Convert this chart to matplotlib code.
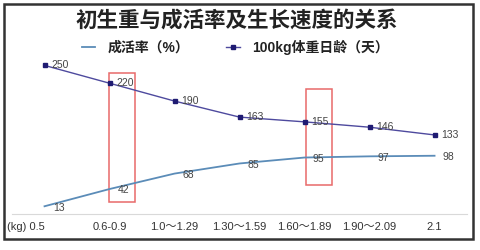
import matplotlib
matplotlib.use('Agg')
import matplotlib.pyplot as plt
from matplotlib.patches import Rectangle

plt.rcParams['font.family'] = ['Liberation Sans', 'Noto Sans CJK SC']

# data
categories = ['(kg) 0.5', '0.6-0.9', '1.0～1.29', '1.30～1.59', '1.60～1.89', '1.90～2.09', '2.1']
survival = [13, 42, 68, 85, 95, 97, 98]
age_100kg = [250, 220, 190, 163, 155, 146, 133]
highlight = [1, 4]

fig = plt.figure(figsize=(4.81, 2.5), dpi=100)
ax = fig.add_axes([0.025, 0.144, 0.946, 0.642])

x = list(range(len(categories)))
ax.plot(x, survival, color='#5b8cb8', lw=1.3, label='成活率（%）')
ax.plot(x, age_100kg, color='#4e4a9e', lw=1.0, marker='s', markersize=3,
        markerfacecolor='#1f1b72', markeredgecolor='#1f1b72', label='100kg体重日龄（天）')

# data labels
for xi, v in zip(x, survival):
    ax.annotate(str(v), (xi, v), xytext=(6, -1), textcoords='offset points',
                ha='left', va='center', fontsize=7.5, color='#444444')
for xi, v in zip(x, age_100kg):
    ax.annotate(str(v), (xi, v), xytext=(5, 0), textcoords='offset points',
                ha='left', va='center', fontsize=7.5, color='#444444')

# red boxes
ax.add_patch(Rectangle((0.985, 21), 0.4, 216, fill=False, edgecolor='#e86a6a', lw=1.1))
ax.add_patch(Rectangle((4.03, 48), 0.4, 162, fill=False, edgecolor='#e86a6a', lw=1.1))

ax.set_xlim(-0.5, len(categories) - 0.5)
ax.set_ylim(0, 270)
ax.set_xticks(x)
ax.set_xticklabels(categories, fontsize=8, color='#333333')
ax.get_xticklabels()[0].set_ha('right')
ax.tick_params(axis='x', length=0, pad=6)
ax.set_yticks([])
for s in ['top', 'right', 'left']:
    ax.spines[s].set_visible(False)
ax.spines['bottom'].set_color('#d9d9d9')
ax.spines['bottom'].set_linewidth(0.8)

# title
fig.text(0.493, 0.916, '初生重与成活率及生长速度的关系', ha='center', va='center',
         fontsize=15.5, fontweight='bold', color='#222222')

# legend
leg = fig.legend(loc='center', bbox_to_anchor=(0.489, 0.812), ncol=2, frameon=False,
                 fontsize=10, handlelength=0.95, columnspacing=2.7, handletextpad=0.9)
for t in leg.get_texts():
    t.set_fontweight('bold')
    t.set_color('#222222')

# outer frame
fig.patches.append(Rectangle((4 / 481, 1 - 239 / 250), 469 / 481, 235 / 250,
                             transform=fig.transFigure, fill=False,
                             edgecolor='#333333', lw=1.8))

fig.savefig('out.png', dpi=100)
